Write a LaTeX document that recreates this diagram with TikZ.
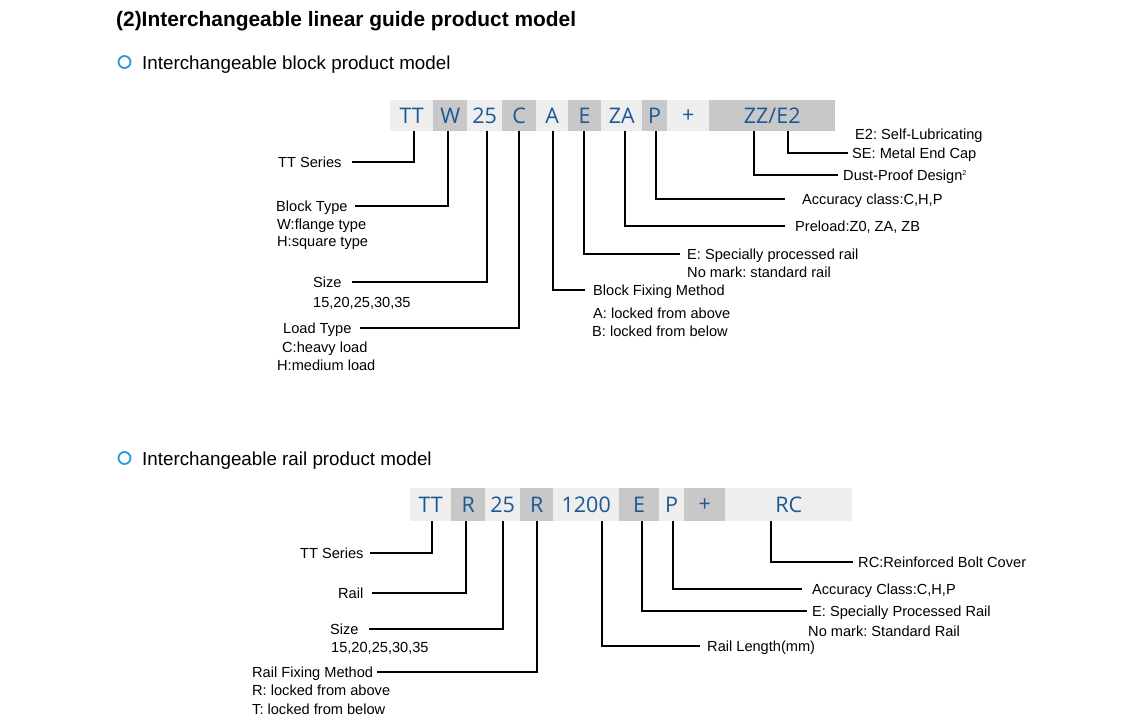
\documentclass[tikz,border=0pt]{standalone}
\usepackage{fontspec}
\setmainfont{Liberation Sans}
\newfontfamily\barfont{Open Sans}
\newcommand\lblfont{\fontsize{14.6}{17}\selectfont}
\definecolor{codeblue}{RGB}{28,88,148}
\definecolor{boxlight}{RGB}{238,238,238}
\definecolor{boxdark}{RGB}{200,200,200}
\definecolor{circblue}{RGB}{40,152,210}
\frenchspacing
\begin{document}
\begin{tikzpicture}[x=1pt,y=-1pt,
  cbox/.style={inner sep=0pt, anchor=north west, font=\barfont\fontsize{21.5}{21.5}\selectfont, text=codeblue},
  lt/.style={cbox, fill=boxlight},
  dk/.style={cbox, fill=boxdark},
  lbl/.style={font=\lblfont, inner sep=0pt, text height=10.5pt, text depth=0pt, anchor=west},
  conn/.style={draw=black, line width=1.5pt},
  ring/.style={circle, draw=circblue, line width=1.8pt, minimum size=12pt, inner sep=0pt}]
\fill[white] (0,0) rectangle (1140,720);
\useasboundingbox (0,0) rectangle (1140,720);

% headings
\node[anchor=base west, inner sep=0pt, font=\bfseries\fontsize{20.9}{24}\selectfont] (title) at (116,26) {(2)Interchangeable linear guide product model};
\node[ring] (r1) at (124.5,62) {};
\node[anchor=base west, inner sep=0pt, font=\fontsize{18.8}{22}\selectfont] (h1) at (142,69) {Interchangeable block product model};
\node[ring] (r2) at (124.5,458) {};
\node[anchor=base west, inner sep=0pt, font=\fontsize{18.8}{22}\selectfont] (h2) at (142,465) {Interchangeable rail product model};

% ---------- top code bar ----------
\tikzset{tb/.style={minimum height=31pt}}
\node[lt,tb,minimum width=43pt] (aTT) at (390,100) {TT};
\node[dk,tb,minimum width=34pt] (aW) at (433,100) {W};
\node[lt,tb,minimum width=35pt] (a25) at (467,100) {25};
\node[dk,tb,minimum width=34pt] (aC) at (502,100) {C};
\node[lt,tb,minimum width=32pt] (aA) at (536,100) {A};
\node[dk,tb,minimum width=33pt] (aE) at (568,100) {E};
\node[lt,tb,minimum width=41pt] (aZA) at (601,100) {ZA};
\node[dk,tb,minimum width=25pt] (aP) at (642,100) {P};
\node[lt,tb,minimum width=42pt] (aPl) at (667,100) {+};
\node[dk,tb,minimum width=126pt] (aZZ) at (709,100) {ZZ/E2};

% top labels left
\node[lbl] (lTT) at (278,162) {TT Series};
\node[lbl] (lBT) at (276,206) {Block Type};
\node[lbl] (lBT1) at (277,224) {W:flange type};
\node[lbl] (lBT2) at (277,241) {H:square type};
\node[lbl] (lSz) at (313,282) {Size};
\node[lbl] (lSz1) at (313,302) {15,20,25,30,35};
\node[lbl] (lLT) at (283,328) {Load Type};
\node[lbl] (lLT1) at (282,347) {C:heavy load};
\node[lbl] (lLT2) at (277,365) {H:medium load};
% top labels right
\node[lbl] (lE2) at (855,134) {E2: Self-Lubricating};
\node[lbl] (lSE) at (852,153) {SE: Metal End Cap};
\node[lbl] (lDP) at (843,175) {Dust-Proof Design\textsuperscript{\fontsize{7}{7}\selectfont 2}};
\node[lbl] (lAC) at (802,199) {Accuracy class:C,H,P};
\node[lbl] (lPL) at (795,226) {Preload:Z0, ZA, ZB};
\node[lbl] (lER) at (687,254) {E: Specially processed rail};
\node[lbl] (lER1) at (687,272) {No mark: standard rail};
\node[lbl] (lBF) at (593,290) {Block Fixing Method};
\node[lbl] (lBF1) at (593,313) {A: locked from above};
\node[lbl] (lBF2) at (592,331) {B: locked from below};

% top connectors
\draw[conn] ([xshift=2.5pt]aTT.south) |- ([xshift=10pt]lTT.east);
\draw[conn] ([xshift=-2pt]aW.south) |- ([xshift=7pt]lBT.east);
\draw[conn] ([xshift=2.5pt]a25.south) |- ([xshift=10pt]lSz.east);
\draw[conn] (aC.south) |- ([xshift=8pt]lLT.east);
\draw[conn] ([xshift=1pt]aA.south) |- ([xshift=-8pt]lBF.west);
\draw[conn] ([xshift=-0.5pt]aE.south) |- ([xshift=-7pt]lER.west);
\draw[conn] ([xshift=3.5pt]aZA.south) |- ([xshift=-10pt]lPL.west);
\draw[conn] ([xshift=1.5pt]aP.south) |- ([xshift=-17pt]lAC.west);
\draw[conn] ([xshift=-18pt]aZZ.south) |- ([xshift=-5pt]lDP.west);
\draw[conn] ([xshift=16pt]aZZ.south) |- ([xshift=-4pt]lSE.west);

% ---------- bottom code bar ----------
\tikzset{bb/.style={minimum height=33pt}}
\node[lt,bb,minimum width=41pt] (bTT) at (410,488) {TT};
\node[dk,bb,minimum width=34pt] (bR) at (451,488) {R};
\node[lt,bb,minimum width=35pt] (b25) at (485,488) {25};
\node[dk,bb,minimum width=33pt] (bR2) at (520,488) {R};
\node[lt,bb,minimum width=66pt] (bLen) at (553,488) {1200};
\node[dk,bb,minimum width=40pt] (bE) at (619,488) {E};
\node[lt,bb,minimum width=25pt] (bP) at (659,488) {P};
\node[dk,bb,minimum width=41pt] (bPl) at (684,488) {+};
\node[lt,bb,minimum width=127pt] (bRC) at (725,488) {RC};

% bottom labels left
\node[lbl] (mTT) at (300,553) {TT Series};
\node[lbl] (mR) at (338,593) {Rail};
\node[lbl] (mSz) at (330,629) {Size};
\node[lbl] (mSz1) at (331,647) {15,20,25,30,35};
\node[lbl] (mRF) at (252,672) {Rail Fixing Method};
\node[lbl] (mRF1) at (252,690) {R: locked from above};
\node[lbl] (mRF2) at (252,709) {T: locked from below};
% bottom labels right
\node[lbl] (mRC) at (858,562) {RC:Reinforced Bolt Cover};
\node[lbl] (mAC) at (812,589) {Accuracy Class:C,H,P};
\node[lbl] (mER) at (812,611) {E: Specially Processed Rail};
\node[lbl] (mER1) at (808,631) {No mark: Standard Rail};
\node[lbl] (mLen) at (707,646) {Rail Length(mm)};

% bottom connectors
\draw[conn] ([xshift=1.5pt]bTT.south) |- ([xshift=6pt]mTT.east);
\draw[conn] ([xshift=-2pt]bR.south) |- ([xshift=8pt]mR.east);
\draw[conn] ([xshift=0.5pt]b25.south) |- ([xshift=10pt]mSz.east);
\draw[conn] ([xshift=0.5pt]bR2.south) |- ([xshift=4pt]mRF.east);
\draw[conn] ([xshift=16pt]bLen.south) |- ([xshift=-7pt]mLen.west);
\draw[conn] ([xshift=3pt]bE.south) |- ([xshift=-5pt]mER.west);
\draw[conn] ([xshift=1.5pt]bP.south) |- ([xshift=-10pt]mAC.west);
\draw[conn] ([xshift=-17.5pt]bRC.south) |- ([xshift=-5pt]mRC.west);
\end{tikzpicture}
\end{document}
